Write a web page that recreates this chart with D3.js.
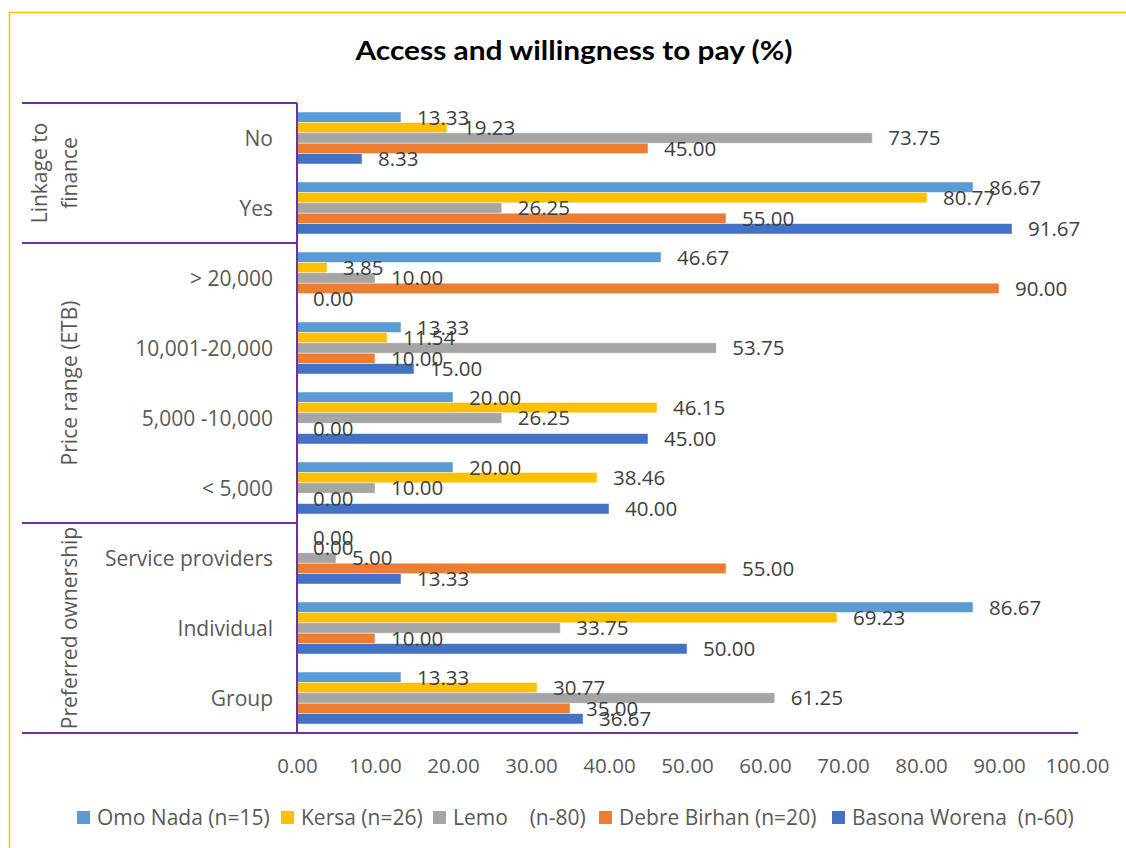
<!DOCTYPE html>
<html>
<head>
<meta charset="utf-8">
<script src="https://cdn.jsdelivr.net/npm/d3@7/dist/d3.min.js"></script>
<style>
  html, body { margin: 0; padding: 0; background: #fff; }
  svg { display: block; }
  text { font-family: "Open Sans", "Noto Sans", sans-serif; white-space: pre; }
</style>
</head>
<body>
<svg id="chart" width="1126" height="848"></svg>
<script>
// ---- data ----
const categories = ["No", "Yes", "> 20,000", "10,001-20,000", "5,000 -10,000", "< 5,000", "Service providers", "Individual", "Group"];
const groups = [
  { name: ["Linkage to", "finance"], from: "No", to: "Yes" },
  { name: ["Price range (ETB)"], from: "> 20,000", to: "< 5,000" },
  { name: ["Preferred ownership"], from: "Service providers", to: "Group" }
];
const seriesNames = ["Omo Nada (n=15)", "Kersa (n=26)", "Lemo    (n-80)", "Debre Birhan (n=20)", "Basona Worena  (n-60)"];
const seriesColors = ["#5B9BD5", "#FFC000", "#A5A5A5", "#ED7D31", "#4472C4"];
const omoNada      = [13.33, 86.67, 46.67, 13.33, 20.00, 20.00, 0.00, 86.67, 13.33];
const kersa        = [19.23, 80.77, 3.85, 11.54, 46.15, 38.46, 0.00, 69.23, 30.77];
const lemo         = [73.75, 26.25, 10.00, 53.75, 26.25, 10.00, 5.00, 33.75, 61.25];
const debreBirhan  = [45.00, 55.00, 90.00, 10.00, 0.00, 0.00, 55.00, 10.00, 35.00];
const basonaWorena = [8.33, 91.67, 0.00, 15.00, 45.00, 40.00, 13.33, 50.00, 36.67];
const seriesValues = [omoNada, kersa, lemo, debreBirhan, basonaWorena];
const xTicks = [0, 10, 20, 30, 40, 50, 60, 70, 80, 90, 100];
const title = "Access and willingness to pay (%)";

// ---- layout ----
const svg = d3.select("#chart");
const plot = { left: 297, right: 1077, top: 103, bottom: 733 };
const purple = "#7030A0";
const labelGrey = "#595959";

// outer border
svg.append("rect").attr("x", 9.5).attr("y", 12.5).attr("width", 1130).attr("height", 850)
  .attr("fill", "none").attr("stroke", "#FFC000").attr("stroke-width", 1.5);

// title
svg.append("text").attr("x", 574).attr("y", 60).attr("text-anchor", "middle")
  .style("font-family", "Lato, 'Open Sans', sans-serif").style("font-weight", "bold")
  .style("font-size", "27px").attr("textLength", 437).attr("lengthAdjust", "spacingAndGlyphs")
  .attr("fill", "#000").text(title);

const x = d3.scaleLinear().domain([0, 100]).range([plot.left, plot.right]);
const y = d3.scaleBand().domain(categories).range([plot.top, plot.bottom])
  .paddingInner(0.257).paddingOuter(0.1285);
const ySub = d3.scaleBand().domain(d3.range(seriesNames.length)).range([0, y.bandwidth()]);

// bars
const rows = categories.map((c, i) => ({ cat: c, vals: seriesValues.map((s, k) => ({ k, v: s[i] })) }));
const g = svg.append("g");
const rowG = g.selectAll("g.row").data(rows).enter().append("g")
  .attr("transform", d => `translate(0,${y(d.cat)})`);
rowG.selectAll("rect").data(d => d.vals).enter().append("rect")
  .attr("x", x(0))
  .attr("y", d => ySub(d.k))
  .attr("width", d => x(d.v) - x(0))
  .attr("height", ySub.bandwidth())
  .attr("fill", d => seriesColors[d.k])
  .attr("stroke", "rgba(255,255,255,0.55)").attr("stroke-width", 0.8);
rowG.selectAll("text").data(d => d.vals).enter().append("text")
  .attr("x", d => x(d.v) + 16)
  .attr("y", d => ySub(d.k) + ySub.bandwidth() / 2)
  .attr("dy", "0.36em")
  .style("font-size", "20.5px").attr("fill", "#404040")
  .text(d => d.v.toFixed(2));

// x axis tick labels
const xAxis = d3.axisBottom(x).tickValues(xTicks).tickSize(0).tickPadding(0)
  .tickFormat(d => d.toFixed(2));
const xg = svg.append("g").attr("transform", `translate(0,${plot.bottom})`).call(xAxis);
xg.select(".domain").remove();
xg.selectAll("text").attr("y", 33).attr("dy", "0.36em")
  .style("font-size", "20.5px").style("font-family", "'Open Sans', sans-serif").attr("fill", labelGrey);

// bottom axis line
svg.append("line").attr("x1", 22).attr("x2", plot.right + 1).attr("y1", plot.bottom).attr("y2", plot.bottom)
  .attr("stroke", purple).attr("stroke-width", 2);
// vertical axis line
svg.append("line").attr("x1", plot.left).attr("x2", plot.left).attr("y1", plot.top).attr("y2", plot.bottom)
  .attr("stroke", purple).attr("stroke-width", 2);

// category labels
const yAxis = d3.axisLeft(y).tickSize(0).tickPadding(24);
const yg = svg.append("g").attr("transform", `translate(${plot.left},0)`).call(yAxis);
yg.select(".domain").remove();
yg.selectAll("text").attr("dy", "0.36em")
  .style("font-size", "21px").style("font-family", "'Open Sans', sans-serif").attr("fill", labelGrey);

// group separators & labels
groups.forEach(gr => {
  const y0 = y(gr.from) - y.step() * y.paddingInner() / 2;
  const y1 = y(gr.to) + y.bandwidth() + y.step() * y.paddingInner() / 2;
  [y0, y1].forEach(yy => {
    svg.append("line").attr("x1", 22).attr("x2", plot.left).attr("y1", yy).attr("y2", yy)
      .attr("stroke", purple).attr("stroke-width", 2);
  });
  const cy = (y0 + y1) / 2;
  const n = gr.name.length;
  gr.name.forEach((line, i) => {
    const bx = 77 - (n - 1 - i) * 30;
    svg.append("text")
      .attr("transform", `translate(${bx},${cy}) rotate(-90)`)
      .attr("text-anchor", "middle")
      .style("font-size", "21px").attr("fill", labelGrey)
      .text(line);
  });
});

// legend
const legendX = [77, 281, 433, 599, 832];
const lg = svg.append("g");
seriesNames.forEach((s, i) => {
  lg.append("rect").attr("x", legendX[i]).attr("y", 811).attr("width", 13).attr("height", 13)
    .attr("fill", seriesColors[i]);
  lg.append("text").attr("x", legendX[i] + 20).attr("y", 817).attr("dy", "0.36em")
    .style("font-size", "21px").attr("fill", labelGrey).text(s);
});
</script>
</body>
</html>
